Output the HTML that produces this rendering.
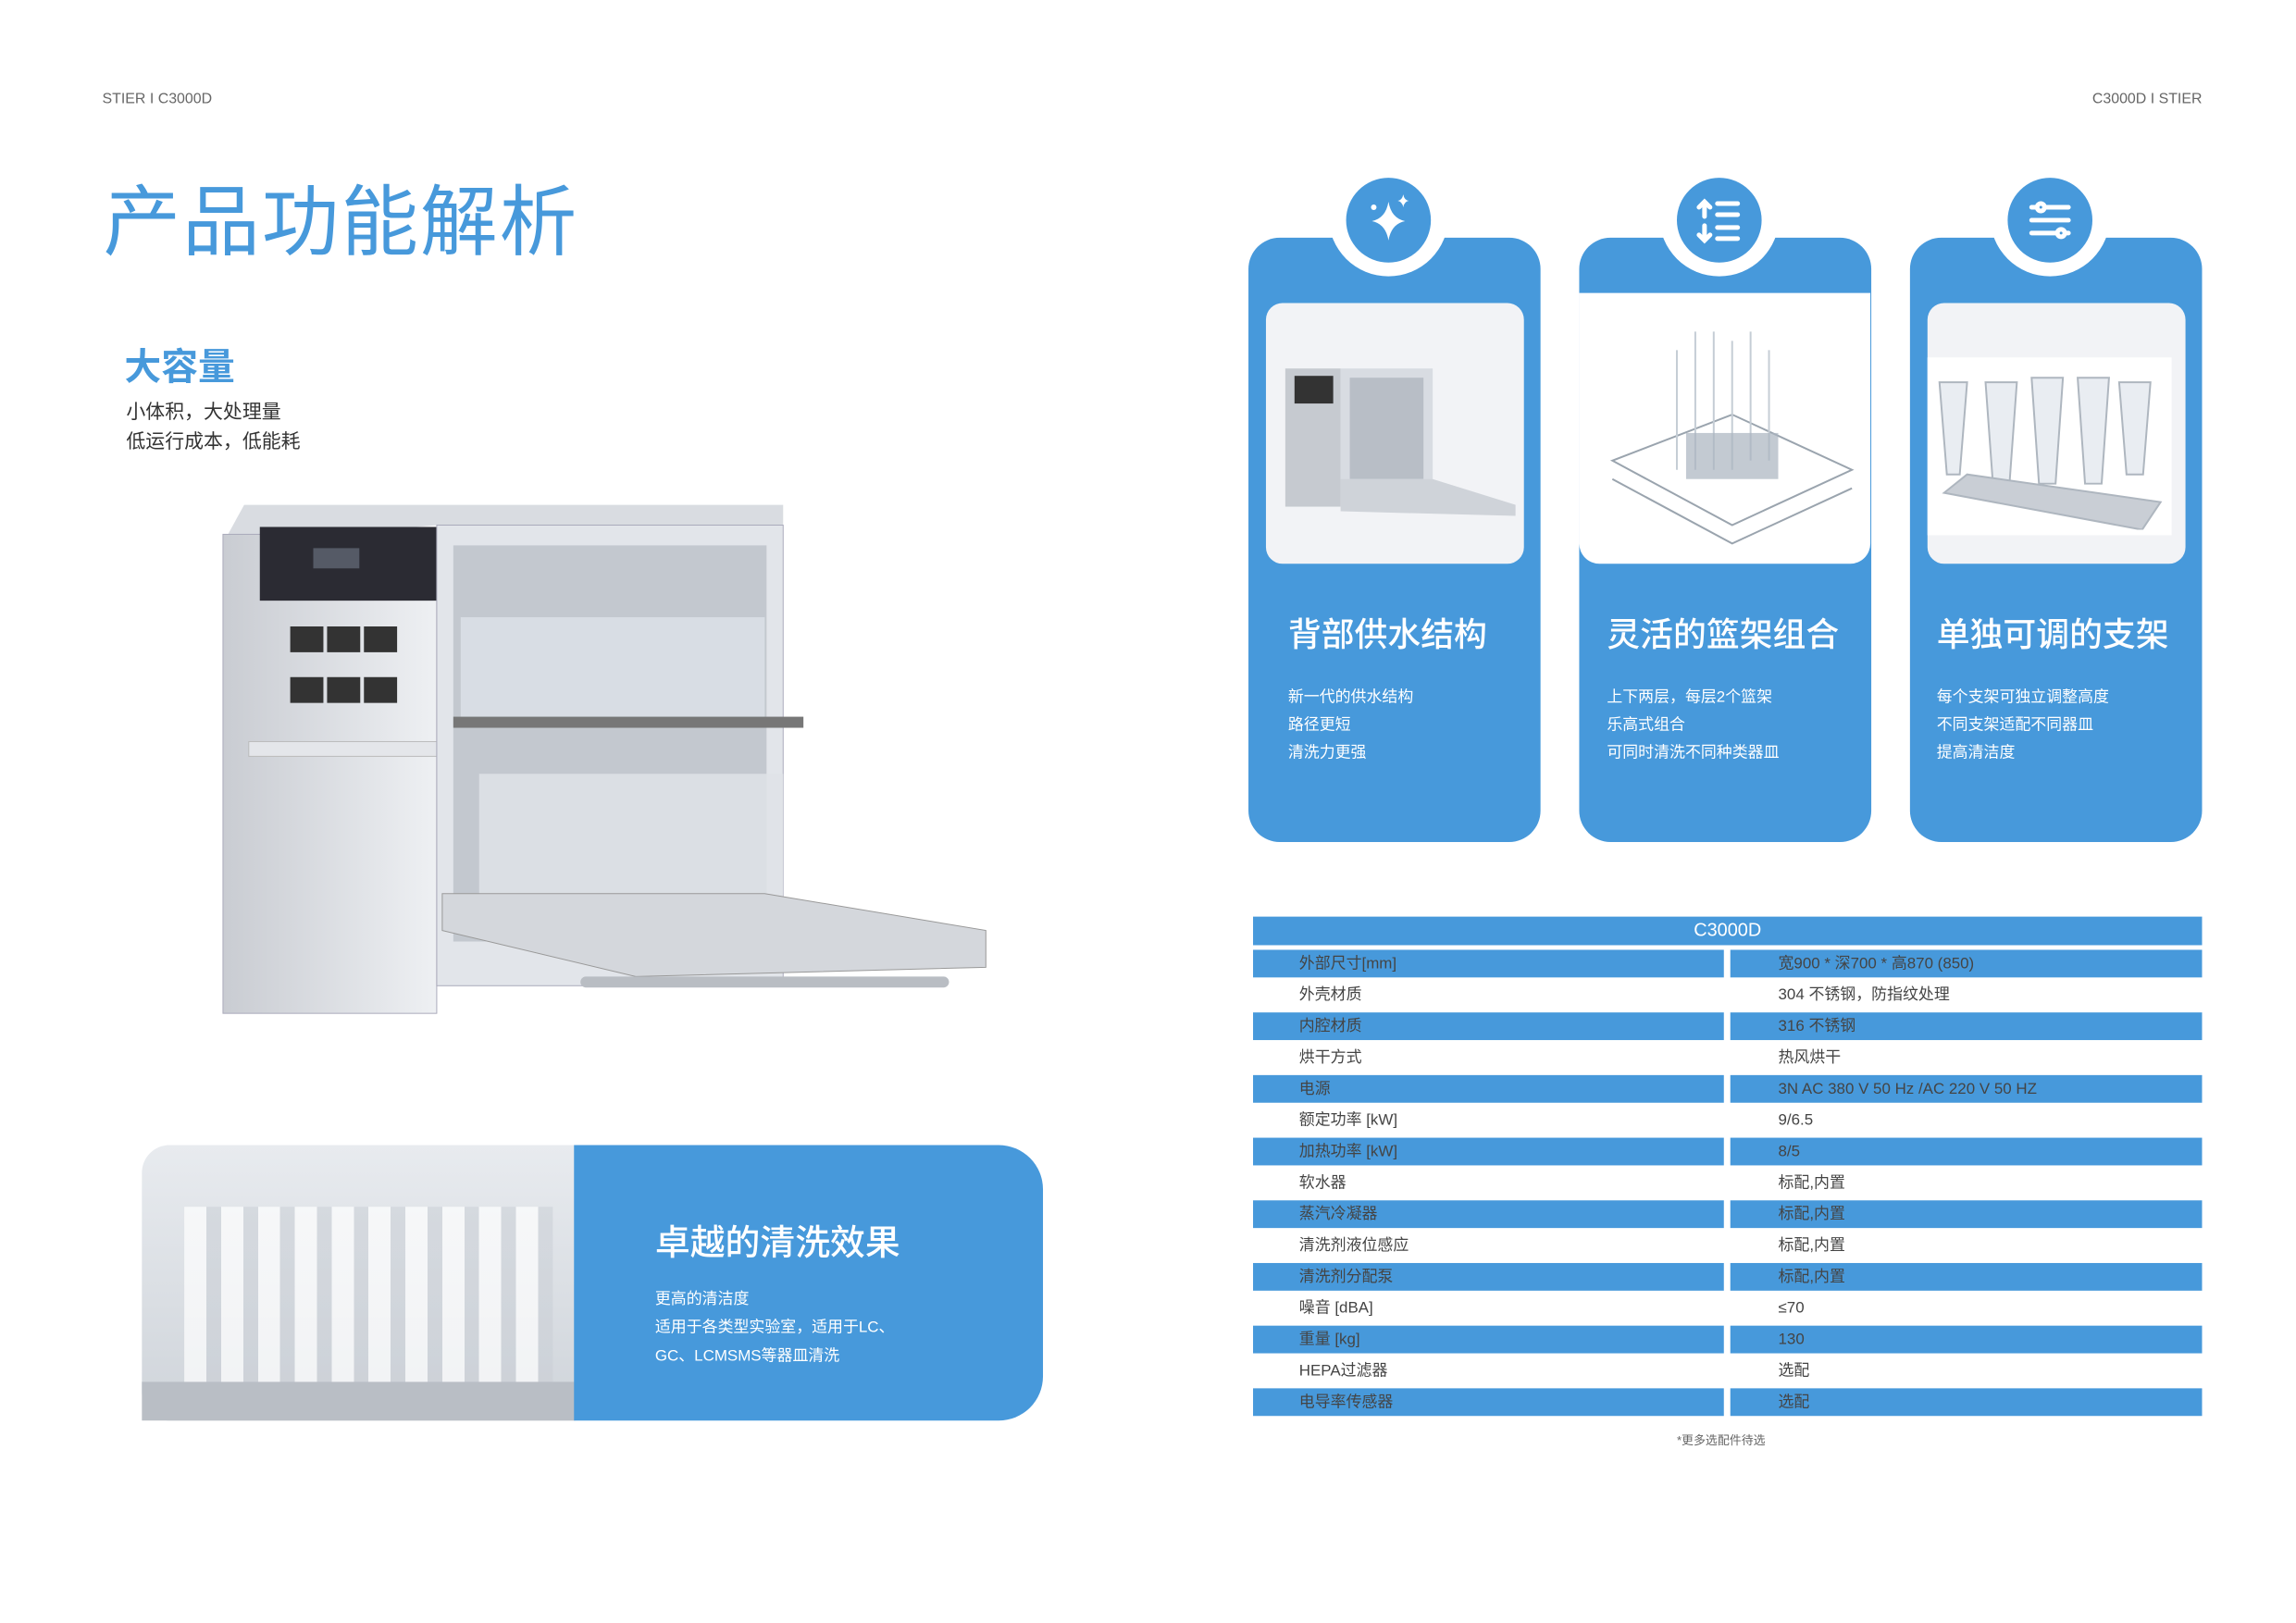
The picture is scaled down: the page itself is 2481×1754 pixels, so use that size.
<!DOCTYPE html>
<html><head><meta charset="utf-8"><style>
*{margin:0;padding:0;box-sizing:border-box}
body{width:2481px;height:1754px;background:#fff;position:relative;overflow:hidden;font-family:"Liberation Sans","Noto Sans CJK SC",sans-serif;color:#444}
#w{position:absolute;left:0;top:0;width:2481px;height:1754px;transform:scale(0.9956);transform-origin:0 0}
.a{position:absolute}
.blue{background:#4799db}
.card{position:absolute;top:258px;width:317px;height:656px;border-radius:34px;background:#4799db}
.notchw{position:absolute;top:170px;width:130px;height:130px;border-radius:50%;background:#fff}
.ic{position:absolute;top:193px;width:92px;height:92px;border-radius:50%;background:#4799db}
.ct{position:absolute;top:660px;font-size:36px;color:#fff;font-weight:500;white-space:nowrap}
.cl{position:absolute;top:742px;font-size:17px;line-height:30px;color:#fff;white-space:nowrap}
.row{position:absolute;left:1360px;width:1030px;height:34px;font-size:17px;line-height:34px}
.row .k{position:absolute;left:50px}
.row .v{position:absolute;left:570px}
.row.b .l{position:absolute;left:0;top:2px;width:511px;height:30px;background:#4799db}
.row.b .r{position:absolute;left:518px;top:2px;width:512px;height:30px;background:#4799db}
</style></head><body><div id="w">
<div class="a" style="left:111px;top:99px;font-size:16px;color:#666">STIER I C3000D</div>
<div class="a" style="right:91px;top:99px;font-size:16px;color:#666">C3000D I STIER</div>
<div class="a" style="left:112px;top:174px;font-size:84px;color:#4799db;letter-spacing:2px">产品功能解析</div>
<div class="a" style="left:135px;top:366px;font-size:40px;color:#4799db;font-weight:bold">大容量</div>
<div class="a" style="left:137px;top:432px;font-size:21px;line-height:32px;color:#333">小体积，大处理量<br>低运行成本，低能耗</div>

<svg class="a" style="left:230px;top:540px" width="860" height="590" viewBox="0 0 860 590">
<defs><linearGradient id="g1" x1="0" x2="1"><stop offset="0" stop-color="#c9ccd2"/><stop offset="1" stop-color="#eef0f3"/></linearGradient></defs>
<polygon points="12,50 35,8 620,8 620,30 245,30" fill="#d9dce1"/>
<rect x="12" y="40" width="232" height="520" fill="url(#g1)" stroke="#aab" />
<rect x="52" y="32" width="192" height="80" fill="#2b2b33"/>
<rect x="110" y="55" width="50" height="22" fill="#555a66"/>
<g fill="#333"><rect x="85" y="140" width="36" height="28"/><rect x="125" y="140" width="36" height="28"/><rect x="165" y="140" width="36" height="28"/><rect x="85" y="195" width="36" height="28"/><rect x="125" y="195" width="36" height="28"/><rect x="165" y="195" width="36" height="28"/></g>
<rect x="40" y="265" width="204" height="16" fill="#e4e6ea" stroke="#bbb"/>
<rect x="244" y="30" width="376" height="500" fill="#e2e5ea" stroke="#aab"/>
<rect x="262" y="52" width="340" height="430" fill="#c3c8cf"/>
<rect x="270" y="130" width="330" height="120" fill="#dde2e8" opacity=".8"/>
<rect x="262" y="238" width="380" height="12" fill="#777"/>
<rect x="290" y="300" width="330" height="160" fill="#dfe3e8" opacity=".85"/>
<polygon points="250,430 600,430 840,470 840,510 460,520 250,470" fill="#d4d7dc" stroke="#999"/>
<rect x="400" y="520" width="400" height="12" rx="6" fill="#b9bdc3"/>
</svg>

<div class="a" style="left:154px;top:1243px;width:470px;height:299px;border-radius:30px 0 0 30px;background:linear-gradient(180deg,#e8ebef,#cfd4da)"></div>
<div class="a" style="left:200px;top:1310px;width:400px;height:200px;background:repeating-linear-gradient(90deg,rgba(255,255,255,.7) 0 24px,rgba(200,205,212,.5) 24px 40px)"></div>
<div class="a" style="left:154px;top:1500px;width:470px;height:42px;background:#b9bec5"></div>
<div class="a blue" style="left:623px;top:1243px;width:509px;height:299px;border-radius:0 48px 48px 0"></div>
<div class="a" style="left:711px;top:1318px;font-size:38px;color:#fff;font-weight:500">卓越的清洗效果</div>
<div class="a" style="left:711px;top:1394px;font-size:17px;line-height:31px;color:#fff">更高的清洁度<br>适用于各类型实验室，适用于LC、<br>GC、LCMSMS等器皿清洗</div>

<div class="card" style="left:1355px"></div>
<div class="card" style="left:1714px"></div>
<div class="card" style="left:2073px"></div>
<div class="notchw" style="left:1442px"></div>
<div class="notchw" style="left:1801px"></div>
<div class="notchw" style="left:2160px"></div>
<div class="ic" style="left:1461px"></div>
<div class="ic" style="left:1820px"></div>
<div class="ic" style="left:2179px"></div>
<svg class="a" style="left:1461px;top:193px" width="92" height="92"><path d="M46 26 Q49 44 64 47 Q49 50 46 68 Q43 50 28 47 Q43 44 46 26Z" fill="#fff"/><path d="M62 18 Q63 24 68 25 Q63 26 62 32 Q61 26 56 25 Q61 24 62 18Z" fill="#fff"/><circle cx="30" cy="32" r="3" fill="#fff"/></svg>
<svg class="a" style="left:1820px;top:193px" width="92" height="92" stroke="#fff" stroke-width="5" fill="none" stroke-linecap="round"><path d="M30 26v16M24 32l6-6 6 6M30 52v16M24 62l6 6 6-6M44 28h22M44 40h22M44 54h22M44 66h22"/></svg>
<svg class="a" style="left:2179px;top:193px" width="92" height="92" stroke="#fff" stroke-width="5" fill="none" stroke-linecap="round"><path d="M26 32h40M26 46h40M26 60h40"/><circle cx="36" cy="32" r="4" fill="#4799db"/><circle cx="58" cy="60" r="4" fill="#4799db"/></svg>

<div class="a" style="left:1374px;top:329px;width:280px;height:283px;border-radius:18px;background:#f2f3f6"></div>
<svg class="a" style="left:1385px;top:380px" width="260" height="190"><rect x="10" y="20" width="60" height="150" fill="#c6cad0"/><rect x="20" y="28" width="42" height="30" fill="#333"/><rect x="70" y="20" width="100" height="140" fill="#d8dce2"/><rect x="80" y="30" width="80" height="110" fill="#b8bec6"/><polygon points="70,140 170,140 260,168 260,180 70,175" fill="#cfd3d9"/></svg>
<div class="a" style="left:1714px;top:318px;width:316px;height:294px;border-radius:0 0 22px 22px;background:#fff"></div>
<svg class="a" style="left:1730px;top:340px" width="290" height="260" stroke="#9aa4ae" fill="none" stroke-width="2"><path d="M20 160 L150 230 L280 170 L150 110Z"/><path d="M20 180 L150 250 L280 190"/><g stroke="#c5cdd5"><path d="M90 40v130M110 20v150M130 20v150M150 30v140M170 20v140M190 40v120"/></g><rect x="100" y="130" width="100" height="50" fill="#aab4bf" stroke="none" opacity=".7"/></svg>
<div class="a" style="left:2092px;top:329px;width:280px;height:283px;border-radius:18px;background:#f2f3f6"></div>
<div class="a" style="left:2092px;top:388px;width:265px;height:193px;background:#fff"></div>
<svg class="a" style="left:2095px;top:395px" width="260" height="180" stroke="#aeb6bf" fill="#e9edf2" stroke-width="2"><path d="M10 20h30l-8 100h-14Z"/><path d="M60 20h34l-8 110h-18Z"/><path d="M110 15h34l-8 115h-18Z"/><path d="M160 15h34l-8 115h-18Z"/><path d="M205 20h34l-8 100h-18Z"/><path d="M15 140 L230 180 L250 150 L40 120Z" fill="#c9ced5"/></svg>

<div class="ct" style="left:1398px">背部供水结构</div>
<div class="ct" style="left:1744px">灵活的篮架组合</div>
<div class="ct" style="left:2102px">单独可调的支架</div>
<div class="cl" style="left:1398px">新一代的供水结构<br>路径更短<br>清洗力更强</div>
<div class="cl" style="left:1744px">上下两层，每层2个篮架<br>乐高式组合<br>可同时清洗不同种类器皿</div>
<div class="cl" style="left:2102px">每个支架可独立调整高度<br>不同支架适配不同器皿<br>提高清洁度</div>

<div class="a blue" style="left:1360px;top:995px;width:1030px;height:31px;color:#fff;font-size:20px;line-height:31px;text-align:center">C3000D</div>
<div class="row b" style="top:1029px"><div class="l"></div><div class="r"></div><span class="k">外部尺寸[mm]</span><span class="v">宽900 * 深700 * 高870 (850)</span></div>
<div class="row" style="top:1063px"><span class="k">外壳材质</span><span class="v">304 不锈钢，防指纹处理</span></div>
<div class="row b" style="top:1097px"><div class="l"></div><div class="r"></div><span class="k">内腔材质</span><span class="v">316 不锈钢</span></div>
<div class="row" style="top:1131px"><span class="k">烘干方式</span><span class="v">热风烘干</span></div>
<div class="row b" style="top:1165px"><div class="l"></div><div class="r"></div><span class="k">电源</span><span class="v">3N AC 380 V 50 Hz /AC 220 V 50 HZ</span></div>
<div class="row" style="top:1199px"><span class="k">额定功率 [kW]</span><span class="v">9/6.5</span></div>
<div class="row b" style="top:1233px"><div class="l"></div><div class="r"></div><span class="k">加热功率 [kW]</span><span class="v">8/5</span></div>
<div class="row" style="top:1267px"><span class="k">软水器</span><span class="v">标配,内置</span></div>
<div class="row b" style="top:1301px"><div class="l"></div><div class="r"></div><span class="k">蒸汽冷凝器</span><span class="v">标配,内置</span></div>
<div class="row" style="top:1335px"><span class="k">清洗剂液位感应</span><span class="v">标配,内置</span></div>
<div class="row b" style="top:1369px"><div class="l"></div><div class="r"></div><span class="k">清洗剂分配泵</span><span class="v">标配,内置</span></div>
<div class="row" style="top:1403px"><span class="k">噪音 [dBA]</span><span class="v">≤70</span></div>
<div class="row b" style="top:1437px"><div class="l"></div><div class="r"></div><span class="k">重量 [kg]</span><span class="v">130</span></div>
<div class="row" style="top:1471px"><span class="k">HEPA过滤器</span><span class="v">选配</span></div>
<div class="row b" style="top:1505px"><div class="l"></div><div class="r"></div><span class="k">电导率传感器</span><span class="v">选配</span></div>
<div class="a" style="left:1820px;top:1553px;font-size:13px;color:#666">*更多选配件待选</div>
</div></body></html>
